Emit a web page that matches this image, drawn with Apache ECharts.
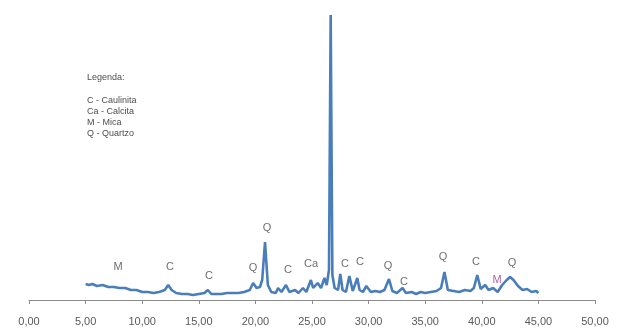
<!DOCTYPE html>
<html>
<head>
<meta charset="utf-8">
<script src="https://cdn.jsdelivr.net/npm/echarts@6/dist/echarts.min.js"></script>
<style>
  html, body { margin: 0; padding: 0; background: #ffffff; }
  #chart { width: 617px; height: 329px; }
</style>
</head>
<body>
<div id="chart"></div>
<script>
// Diffractogram: 2-theta (degrees) and intensity (counts)
const twoTheta = [
  5.0, 5.3, 5.6, 6.0, 6.5, 7.0, 7.5, 8.0, 8.5, 9.0, 9.5, 10.0, 10.5, 11.0, 11.5,
  12.0, 12.3, 12.6, 13.0, 13.5, 14.0, 14.5, 15.0, 15.5, 15.8, 16.1, 16.5, 17.0,
  17.5, 18.0, 18.5, 19.0, 19.5, 19.8, 20.1, 20.4, 20.6, 20.85, 21.1, 21.4, 21.8,
  22.0, 22.3, 22.7, 23.0, 23.5, 23.8, 24.2, 24.5, 24.9, 25.1, 25.5, 25.8, 26.1,
  26.3, 26.5, 26.65, 26.8, 27.0, 27.3, 27.5, 27.7, 28.0, 28.3, 28.6, 29.0, 29.2,
  29.5, 29.8, 30.2, 30.6, 31.0, 31.4, 31.8, 32.1, 32.5, 33.0, 33.3, 33.8, 34.2,
  34.6, 35.0, 35.5, 36.0, 36.4, 36.7, 37.0, 37.5, 38.0, 38.5, 39.0, 39.3, 39.6,
  39.9, 40.3, 40.6, 41.0, 41.4, 41.8, 42.2, 42.5, 42.8, 43.2, 43.6, 44.0, 44.4,
  44.8, 45.0
];
const intensity = [
  160, 150, 160, 140, 150, 130, 130, 120, 120, 100, 100, 80, 80, 70, 80,
  100, 150, 100, 70, 60, 60, 50, 60, 70, 100, 60, 60, 60,
  70, 70, 70, 80, 100, 170, 120, 130, 200, 580, 150, 80, 70,
  120, 80, 150, 80, 100, 70, 120, 80, 200, 120, 170, 120, 220,
  150, 300, 2850, 250, 120, 100, 260, 100, 80, 240, 90, 220, 100,
  80, 140, 80, 90, 80, 100, 210, 90, 70, 120, 70, 80, 60,
  80, 70, 80, 90, 120, 280, 100, 90, 80, 100, 90, 120, 250,
  110, 150, 100, 120, 80, 150, 200, 230, 200, 140, 100, 110, 80,
  90, 70
];

// Phase annotations above the peaks
const peakTags = ['M', 'C', 'C', 'Q', 'Q', 'C', 'Ca', 'C', 'C', 'Q', 'C', 'Q', 'C', 'M', 'Q'];
const tagTheta = [7.86, 12.46, 15.9, 19.79, 21.02, 22.88, 24.91, 27.92, 29.24, 31.71, 33.13, 36.57, 39.49, 41.34, 42.67];
const tagHeight = [330, 330, 240, 320, 720, 300, 360, 360, 380, 340, 180, 430, 380, 200, 370];

const xTicks = [0, 5, 10, 15, 20, 25, 30, 35, 40, 45, 50];

const legendLines = ['Legenda:', '', 'C - Caulinita', 'Ca - Calcita', 'M - Mica', 'Q - Quartzo'];

const chart = echarts.init(document.getElementById('chart'));

const curve = twoTheta.map((t, i) => [t, intensity[i]]);
const tags = peakTags.map((s, i) => ({
  value: [tagTheta[i], tagHeight[i]],
  name: s,
  label: { color: s === 'M' && tagTheta[i] > 40 ? '#9b3a8a' : '#4a4a4a' }
}));

chart.setOption({
  animation: false,
  backgroundColor: '#ffffff',
  grid: { left: 29, right: 22, top: 0, bottom: 29, containLabel: false },
  xAxis: {
    type: 'value',
    min: xTicks[0],
    max: xTicks[xTicks.length - 1],
    interval: 5,
    axisLine: { show: true, onZero: false, lineStyle: { color: '#8c8c8c', width: 1 } },
    axisTick: { show: true, length: 4, lineStyle: { color: '#8c8c8c' } },
    splitLine: { show: false },
    axisLabel: {
      margin: 16,
      color: '#5a5a5a',
      fontFamily: 'Liberation Sans, Arial, sans-serif',
      fontSize: 11,
      formatter: v => v.toFixed(2).replace('.', ',')
    }
  },
  yAxis: {
    type: 'value',
    min: 0,
    max: 3000,
    show: false,
    splitLine: { show: false }
  },
  series: [
    {
      type: 'line',
      data: curve,
      showSymbol: false,
      symbol: 'none',
      lineStyle: { color: '#4a7ebb', width: 2.6 },
      z: 2
    },
    {
      type: 'scatter',
      data: tags,
      symbolSize: 2,
      itemStyle: { color: 'rgba(0,0,0,0)' },
      label: {
        show: true,
        position: 'inside',
        formatter: p => p.name,
        fontFamily: 'Liberation Sans, Arial, sans-serif',
        fontSize: 11
      },
      z: 3
    }
  ],
  graphic: legendLines.map((txt, i) => ({
    type: 'text',
    left: 87,
    top: i === 0 ? 73 : 73 + 11 + (i - 1) * 11 + (i > 1 ? 1 : 0),
    style: {
      text: txt,
      fill: '#4d4d4d',
      font: '9px Liberation Sans, Arial, sans-serif'
    }
  }))
});
</script>
</body>
</html>
